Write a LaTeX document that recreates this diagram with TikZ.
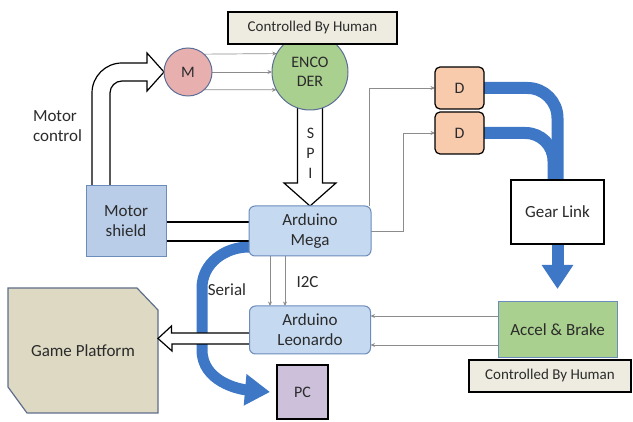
\documentclass[tikz,border=0pt]{standalone}
\usepackage{fontspec}
\setmainfont{Carlito}
\usetikzlibrary{arrows.meta,calc}
\definecolor{boxblue}{HTML}{C5D9F1}
\definecolor{shieldblue}{HTML}{B9CDE8}
\definecolor{boxblueline}{HTML}{6C8CBC}
\definecolor{mpink}{HTML}{E8AFAF}
\definecolor{encgreen}{HTML}{A9D08E}
\definecolor{circline}{HTML}{5B6F96}
\definecolor{humanfill}{HTML}{EEECE1}
\definecolor{dpeach}{HTML}{F8CBAD}
\definecolor{pcpurple}{HTML}{CCC0DA}
\definecolor{gamefill}{HTML}{DDD9C3}
\definecolor{gameline}{HTML}{5F6E8A}
\definecolor{bandblue}{HTML}{3D77C6}
\definecolor{thingray}{HTML}{8C8C8C}
\definecolor{txt}{HTML}{2B2B2B}
\pgfdeclarelayer{bg}
\pgfsetlayers{bg,main}
\tikzset{
  every node/.style={inner sep=0pt, outer sep=0pt, text=txt, align=center},
  bluebox/.style={rectangle, draw=boxblueline, fill=boxblue, line width=1pt},
  rbox/.style={bluebox, rounded corners=6pt},
  humanbox/.style={rectangle, draw=black, fill=humanfill, line width=1.3pt, font=\fontsize{15}{18}\selectfont},
  dbox/.style={rectangle, rounded corners=5pt, draw=black, fill=dpeach, line width=1.2pt, minimum width=49pt, minimum height=42pt},
  hollow/.style={draw=black, fill=white, line width=1.2pt, line join=miter},
  thinarrow/.style={draw=thingray, line width=0.7pt, -{Stealth[length=4.5pt,width=4pt]}},
  blueband/.style={draw=bandblue, line width=12pt},
}
\begin{document}
\begin{tikzpicture}[x=1pt, y=-1pt, font=\fontsize{17}{20}\selectfont]
\useasboundingbox (0,0) rectangle (633,422);

% nodes
\node[circle, draw=circline, fill=encgreen, line width=1pt, minimum size=76pt, font=\fontsize{16}{19}\selectfont] (enc) at (310,72) {ENCO\\DER};
\node[humanbox, minimum width=169pt, minimum height=32pt] (chh1) at (312.5,28) {Controlled By Human};
\node[circle, draw=circline, fill=mpink, line width=1pt, minimum size=48pt, font=\fontsize{16}{19}\selectfont] (M) at (188,72) {M};
\node[bluebox, fill=shieldblue, minimum width=80pt, minimum height=71pt] (shield) at (126,221.5) {Motor\\shield};
\node[rbox, minimum width=122pt, minimum height=50pt] (mega) at (310,231) {Arduino\\Mega};
\node[rbox, minimum width=121pt, minimum height=48pt] (leo) at (310,330) {Arduino\\Leonardo};
\node[rectangle, draw=black, fill=pcpurple, line width=1.2pt, minimum width=51pt, minimum height=54pt, font=\fontsize{16}{19}\selectfont] (pc) at (302.5,392) {PC};
\node[minimum width=150pt, minimum height=125pt] (game) at (83,350.5) {Game Platform};
\node[dbox, font=\fontsize{16}{19}\selectfont] (D1) at (459.5,88) {D};
\node[dbox, font=\fontsize{16}{19}\selectfont] (D2) at (459.5,133) {D};
\node[rectangle, draw=black, fill=white, line width=1.2pt, minimum width=93pt, minimum height=64pt] (gear) at (557.5,212) {Gear Link};
\node[rectangle, draw=boxblueline, fill=encgreen, line width=1pt, minimum width=119pt, minimum height=56pt] (accel) at (557.5,330) {Accel \& Brake};
\node[humanbox, minimum width=162pt, minimum height=32pt] (chh2) at (550,376) {Controlled By Human};

% labels
\node[anchor=west, align=left] (mclabel) at (33,126) {Motor\\control};
\node (seriallabel) at (227,290) {Serial};
\node (i2clabel) at (307.5,282) {I2C};
\node[font=\fontsize{16}{19}\selectfont] (spis) at (310.5,133) {S};
\node[font=\fontsize{16}{19}\selectfont] (spip) at (310.5,153) {P};
\node[font=\fontsize{16}{19}\selectfont] (spii) at (310.5,173) {I};

\begin{pgfonlayer}{bg}
% game platform shape
\draw[fill=gamefill, draw=gameline, line width=1.2pt, line join=miter]
  (game.north west) -- ($(game.north east)+(-21,0)$) -- ($(game.north east)+(0,22)$)
  -- (game.south east) -- ($(game.south west)+(19,0)$) -- ($(game.south west)+(0,-26)$) -- cycle;

% serial band
\draw[blueband, line width=11pt, -{Triangle[length=25pt,width=30pt]}]
  ($(mega.west)+(0,16)$) to[out=180,in=90] (202,288) -- (202,350) to[out=-90,in=175] ($(pc.west)+(-7,0)$);

% leonardo -> game platform hollow arrow
\draw[hollow] ($(leo.west)+(0,3)$) -- ++(-78,0) -- ++(0,-7) -- ($(game.east)+(0,-12)$) -- ++(14,12.5) -- ++(0,-7) -- ++(78,0);

% motor control hollow arrow
\draw[hollow] ($(shield.north)+(-34,0)$) -- (92,93) .. controls (92,76.4) and (105.4,63) .. (122,63)
  -- (147,63) -- (147,53) -- (M.west) -- (147,91) -- (147,81) -- (122,81)
  .. controls (115.4,81) and (110,86.4) .. (110,93) -- ($(shield.north)+(-16,0)$);

% motor shield <-> mega band
\fill[white] ($(shield.east)+(0,0.5)$) rectangle ($(mega.west)+(0,10)$);
\draw[line width=1.2pt] ($(shield.east)+(0,0.5)$) -- ($(mega.west)+(0,-9)$);
\draw[line width=1.2pt] ($(shield.east)+(0,19.5)$) -- ($(mega.west)+(0,10)$);

% SPI hollow arrow
\draw[hollow] ($(enc.south)+(-12.5,-4)$) -- (297.5,183) -- (284,183) -- (mega.north) -- (336,183) -- (322.5,183) -- ($(enc.south)+(12.5,-4)$);

% M -> encoder
\draw[thinarrow] (M.48.6) -- (enc.151.7);
\draw[thinarrow] (M.east) -- (enc.west);
\draw[thinarrow] (M.-48.6) -- (enc.208.3);

% mega -> D
\draw[thinarrow] ($(mega.north east)+(-2,0)$) |- (D1.west);
\draw[thinarrow] (mega.east) -- ++(32,0) |- (D2.west);

% I2C
\draw[thinarrow] ($(mega.south)+(-40,0)$) -- ($(leo.north)+(-40,0)$);
\draw[thinarrow] ($(mega.south)+(-25,0)$) -- ($(leo.north)+(-25,0)$);

% accel -> leonardo
\draw[thinarrow] ($(accel.west)+(0,-14)$) -- ($(leo.east)+(0,-14)$);
\draw[thinarrow] ($(accel.west)+(0,15)$) -- ($(leo.east)+(0,15)$);

% D -> gear link bands
\draw[blueband, rounded corners=28pt] (D2.east) -| ($(gear.north)+(-4,0)$);
\draw[blueband, rounded corners=30pt] (D1.east) -| (gear.north);

% gear -> accel
\draw[blueband, -{Triangle[length=24pt,width=30pt]}] (gear.south) -- ($(accel.north)+(0,-13)$);
\end{pgfonlayer}
\end{tikzpicture}
\end{document}
